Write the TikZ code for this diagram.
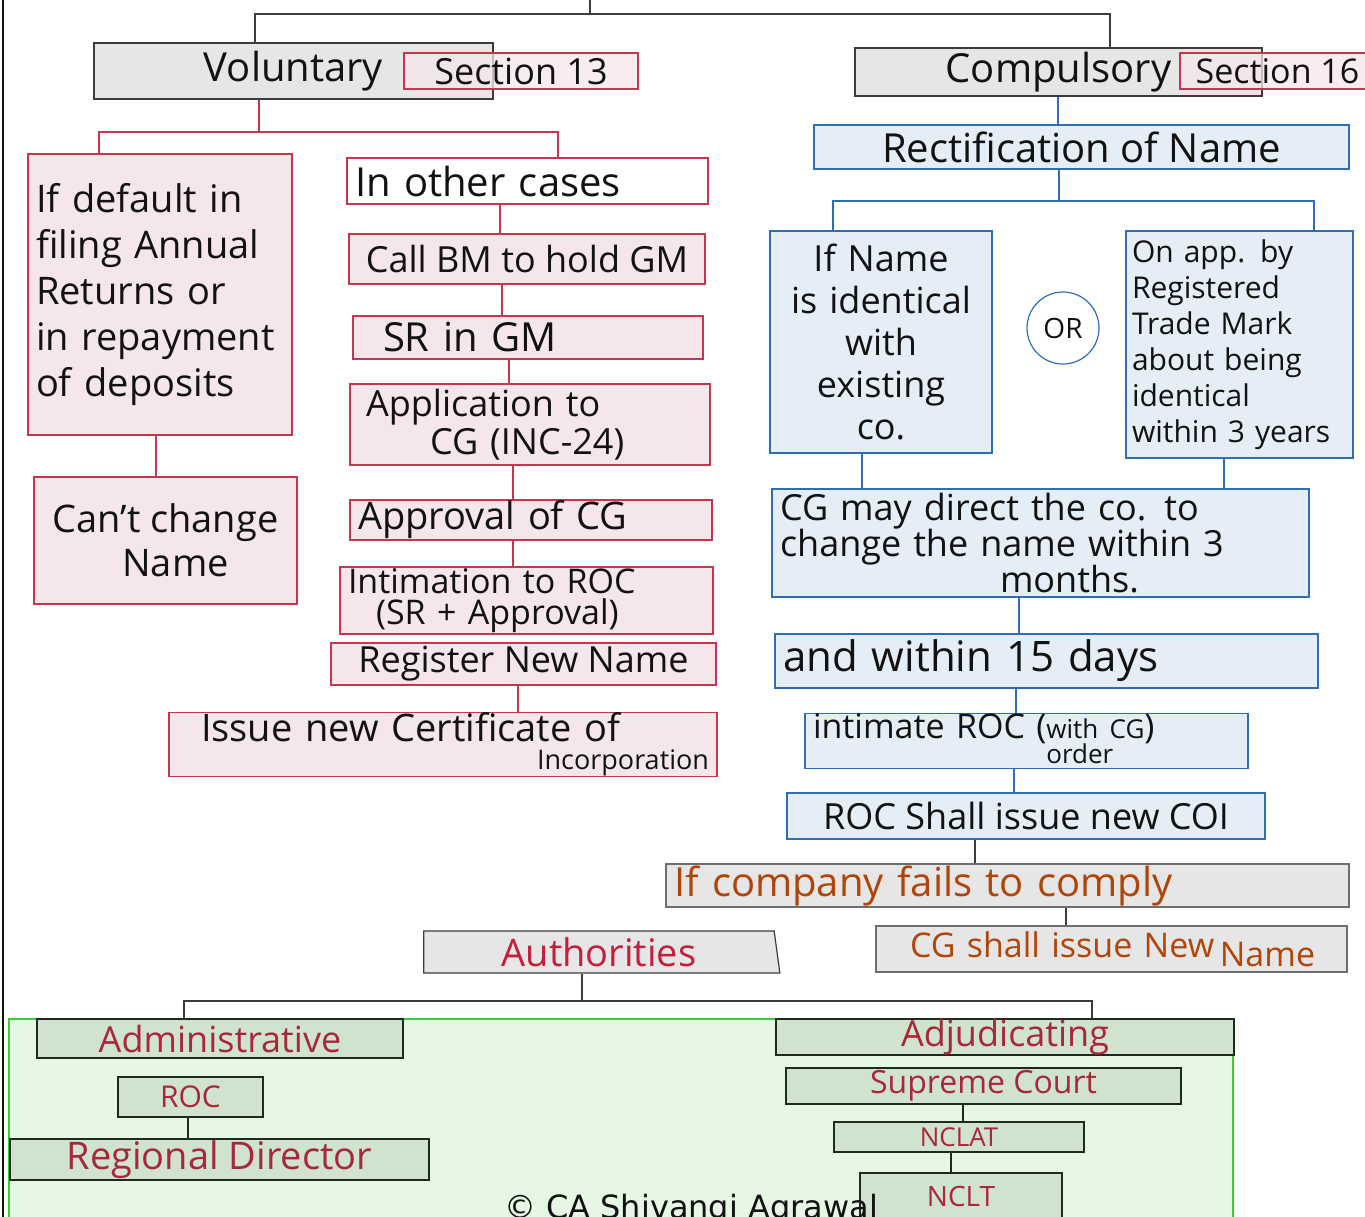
\documentclass[tikz,border=0pt]{standalone}
\usepackage{fontspec}
\setmainfont{Open Sans}
\newfontfamily\copyfont{DejaVu Sans}
\usetikzlibrary{positioning,shapes.geometric}

\definecolor{ink}{HTML}{121212}
\definecolor{boxgray}{HTML}{E6E6E6}
\definecolor{edgegray}{HTML}{3C3C3C}
\definecolor{softgray}{HTML}{6E6E6E}
\definecolor{pinkfill}{HTML}{F5E6EA}
\definecolor{pinkedge}{HTML}{C8354E}
\definecolor{bluefill}{HTML}{E5EDF6}
\definecolor{blueedge}{HTML}{2F6EB5}
\definecolor{grnfill}{HTML}{CFE3CE}
\definecolor{grnedge}{HTML}{1E2A1E}
\definecolor{zonefill}{HTML}{E6F8E4}
\definecolor{zoneedge}{HTML}{3CCB3C}
\definecolor{authred}{HTML}{C41E3A}
\definecolor{grntext}{HTML}{A8283A}
\definecolor{rust}{HTML}{B0450A}

\newcommand{\hw}[2]{\fontsize{#1}{#2}\selectfont}

\begin{document}
\begin{tikzpicture}[x=1pt,y=-1pt,
    box/.style={rectangle,draw,line width=1.2pt,inner xsep=8pt,inner ysep=0pt,text=ink},
    greybox/.style={box,fill=boxgray,draw=edgegray},
    failbox/.style={box,fill=boxgray,draw=softgray,text=rust},
    pinkbox/.style={box,fill=pinkfill,draw=pinkedge},
    bluebox/.style={box,fill=bluefill,draw=blueedge},
    grnbox/.style={box,fill=grnfill,draw=grnedge,text=grntext},
    secbox/.style={box,fill=pinkfill,fill opacity=0.75,text opacity=1,draw=pinkedge},
    tline/.style={draw=edgegray,line width=1.2pt},
    plink/.style={draw=pinkedge,line width=1.2pt},
    blink/.style={draw=blueedge,line width=1.2pt},
    glink/.style={draw=grnedge,line width=1.2pt}]

\useasboundingbox (0,0) rectangle (1365,1216);

% page edge
\draw[ink,line width=1.6pt] (3,-5) -- (3,1225);

% two kinds of change
\coordinate (top) at (590,-5);
\coordinate (split) at (590,14);
\node[greybox,minimum width=399pt,minimum height=56pt,font={\hw{40}{46}}] (vol) at (293.5,71) {Voluntary};
\node[secbox,minimum width=234pt,minimum height=36pt,font={\hw{36}{36}}] (sec13) at (521,71) {Section 13};
\node[greybox,minimum width=407pt,minimum height=48pt,font={\hw{40}{46}}] (comp) at (1058.5,72) {Compulsory};
\node[secbox,minimum width=195pt,minimum height=36pt,font={\hw{34}{34}}] (sec16) at (1277.5,71) {Section 16};
\draw[tline] (top) -- (split) -| (vol.north -| 255,0);
\draw[tline] (split) -| (comp.north -| 1110,0);

% Voluntary side
\node[pinkbox,text width=248pt,minimum height=281pt,align=left,font={\hw{38}{46}}] (dflt) at (160,294.5) {If default in\\filing Annual\\Returns or\\in repayment\\of deposits};
\node[pinkbox,minimum width=263pt,minimum height=127pt,align=center,font={\hw{38}{44}}] (cant) at (165.5,540.5) {Can't change\\\hspace*{20pt}Name};
\node[box,draw=pinkedge,fill=white,text width=345pt,minimum height=46pt,align=left,font={\hw{40}{40}}] (other) at (527.5,181) {In other cases};
\node[pinkbox,minimum width=356pt,minimum height=50pt,font={\hw{36}{36}}] (call) at (527,259) {Call BM to hold GM};
\node[pinkbox,text width=334pt,minimum height=43pt,align=left,font={\hw{40}{40}}] (sr) at (528,337.5) {\hspace*{22pt}SR in GM};
\node[pinkbox,text width=344pt,minimum height=81pt,align=left,font={\hw{36}{38}}] (app) at (530,424.5) {\hspace*{8pt}Application to\\\hspace*{72pt}CG (INC-24)};
\node[pinkbox,text width=346pt,minimum height=40pt,align=left,font={\hw{38}{38}}] (appr) at (531,520) {Approval of CG};
\node[pinkbox,text width=357pt,minimum height=67pt,align=left,font={\hw{34}{31}}] (intim) at (526.5,600.5) {Intimation to ROC\\\hspace*{28pt}(SR + Approval)};
\node[pinkbox,minimum width=385pt,minimum height=42pt,font={\hw{36}{36}}] (reg) at (523.5,664) {Register New Name};
\node[pinkbox,text width=532pt,minimum height=63pt,align=left,font={\hw{38}{38}}] (issue) at (443,744.5) {\hspace*{24pt}Issue new Certificate of\\[-10pt]\hspace*{\fill}{\hw{27}{27}Incorporation}};

\coordinate (vj) at (259,132);
\draw[plink] (vol.south -| vj) -- (vj);
\draw[plink] (dflt.north -| 99,0) |- (vj) -| (other.north -| 558,0);
\foreach \a/\b/\x in {other/call/500,call/sr/502,sr/app/509,app/appr/513,appr/intim/513,reg/issue/518,dflt/cant/156}
  \draw[plink] (\a.south -| \x,0) -- (\b.north -| \x,0);

% Compulsory side
\node[bluebox,minimum width=535pt,minimum height=44pt,font={\hw{40}{40}}] (rect) at (1081.5,147) {Rectification of Name};
\node[bluebox,text width=206pt,minimum height=222pt,align=center,font={\hw{36}{42}}] (idn) at (881,342) {If Name\\is identical\\with\\existing\\co.};
\node[circle,draw=blueedge,line width=1.2pt,minimum size=72pt,inner sep=0pt,text=ink,font={\hw{28}{28}}] (orc) at (1063,328) {OR};
\node[bluebox,inner xsep=6pt,text width=215pt,minimum height=227pt,align=left,font={\hw{30}{36}}] (tm) at (1239.5,344.5) {On app. by\\Registered\\Trade Mark\\about being\\identical\\within 3 years};
\node[bluebox,text width=521pt,minimum height=108pt,align=left,font={\hw{36}{36}}] (cgd) at (1040.5,543) {CG may direct the co. to\\change the name within 3\\\hspace*{220pt}months.};
\node[bluebox,text width=527pt,minimum height=54pt,align=left,font={\hw{42}{42}}] (days) at (1046.5,661) {and within 15 days};
\node[bluebox,text width=427pt,minimum height=50pt,align=left,font={\hw{34}{34}}] (intr) at (1026.5,741) {intimate ROC ({\hw{26}{20}\def\arraystretch{0.8}\begin{tabular}[t]{@{}l@{}}with CG\\order\end{tabular}})};
\node[bluebox,minimum width=478pt,minimum height=46pt,font={\hw{36}{36}}] (coi) at (1026,816) {ROC Shall issue new COI};
\node[failbox,text width=667pt,minimum height=43pt,align=left,font={\hw{40}{40}}] (fail) at (1007.5,885.5) {If company fails to comply};
\node[failbox,text width=455pt,minimum height=46pt,align=left,font={\hw{34}{34}}] (cgn) at (1111.5,949) {\hspace*{26pt}CG shall issue New\,\raisebox{-9pt}{Name}};

\draw[blink] (comp.south -| 1058,0) -- (rect.north -| 1058,0);
\coordinate (rj) at (1059,201);
\draw[blink] (rect.south -| rj) -- (rj);
\draw[blink] (idn.north -| 833,0) |- (rj) -| (tm.north -| 1314,0);
\foreach \a/\b/\x in {idn/cgd/862,tm/cgd/1224,cgd/days/1019,days/intr/1016,intr/coi/1014}
  \draw[blink] (\a.south -| \x,0) -- (\b.north -| \x,0);
\foreach \a/\b/\x in {coi/fail/975,fail/cgn/1066}
  \draw[tline] (\a.south -| \x,0) -- (\b.north -| \x,0);

% Authorities
\node[trapezium,trapezium left angle=90,trapezium right angle=79,trapezium stretches body,
      draw=edgegray,fill=boxgray,line width=1.2pt,inner sep=0pt,minimum width=356pt,minimum height=42pt,
      text=authred,font={\hw{38}{38}}] (auth) at (599,952) {Authorities};

\draw[draw=zoneedge,fill=zonefill,line width=1.2pt] (9,1019) rectangle (1233,1230);

\node[grnbox,minimum width=366pt,minimum height=39pt,font={\hw{36}{36}}] (adm) at (220,1038.5) {Administrative};
\node[grnbox,minimum width=145pt,minimum height=40pt,font={\hw{30}{30}}] (rocb) at (190.5,1097) {ROC};
\node[grnbox,minimum width=419pt,minimum height=41pt,font={\hw{38}{38}}] (rd) at (219.5,1159.5) {Regional Director};
\node[grnbox,minimum width=458pt,minimum height=36pt,font={\hw{36}{36}}] (adj) at (1005,1037) {Adjudicating};
\node[grnbox,minimum width=395pt,minimum height=36pt,font={\hw{32}{32}}] (sc) at (983.5,1086) {Supreme Court};
\node[grnbox,minimum width=250pt,minimum height=30pt,font={\hw{26}{26}}] (nclat) at (959,1137) {NCLAT};
\node[grnbox,minimum width=202pt,minimum height=46pt,font={\hw{28}{28}}] (nclt) at (961,1196) {NCLT};

\coordinate (aj) at (582,1001);
\draw[tline] (auth.south -| aj) -- (aj);
\draw[tline] (adm.north -| 184,0) |- (aj) -| (adj.north -| 1092,0);
\foreach \a/\b/\x in {rocb/rd/188,sc/nclat/963,nclat/nclt/951}
  \draw[glink] (\a.south -| \x,0) -- (\b.north -| \x,0);

\node[anchor=base,inner sep=0pt,text=ink,font={\copyfont\hw{32}{32}}] (copy) at (691,1218) {© CA Shivangi Agrawal};

\end{tikzpicture}
\end{document}
